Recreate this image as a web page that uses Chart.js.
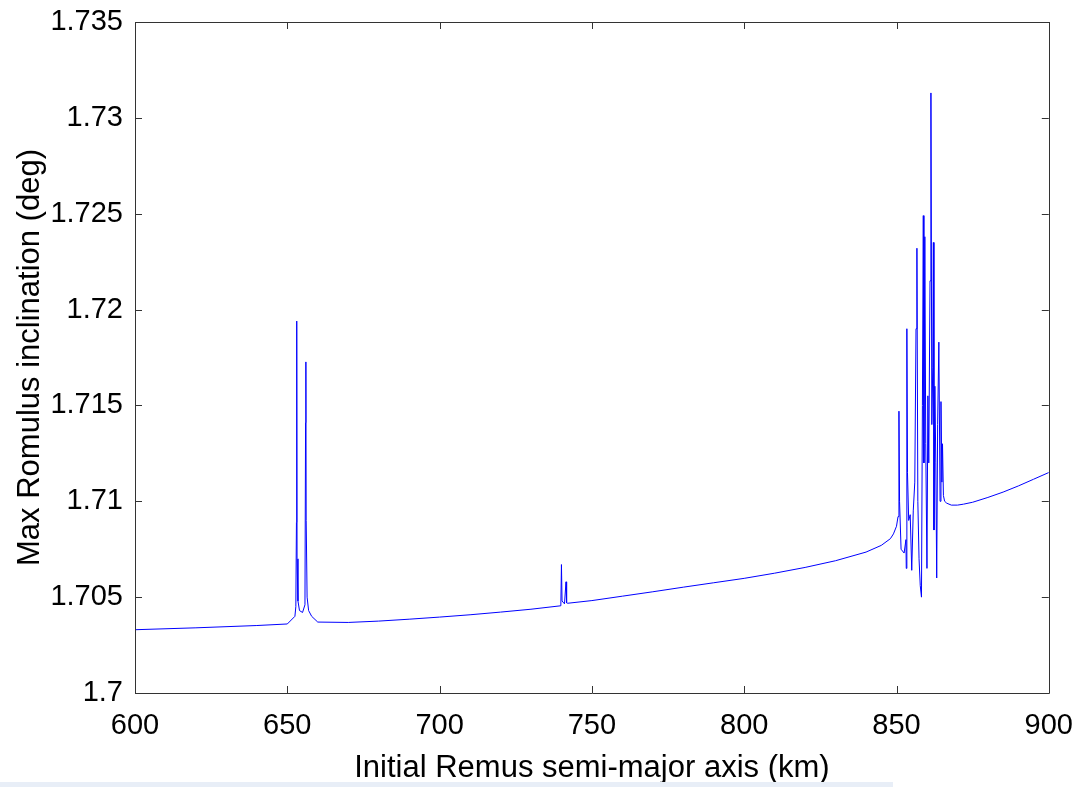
<!DOCTYPE html>
<html>
<head>
<meta charset="utf-8">
<script src="https://cdn.jsdelivr.net/npm/chart.js@4/dist/chart.umd.min.js"></script>
<style>
  html, body { margin: 0; padding: 0; background: #fff; }
  #wrap { position: relative; width: 1081px; height: 787px; }
  #strip { position: absolute; left: 0; top: 782px; width: 893px; height: 5px; background: #e8eef7; }
</style>
</head>
<body>
<div id="wrap">
  <canvas id="c" width="1081" height="787"></canvas>
  <div id="strip"></div>
</div>
<script>
// Semi-major axis (km)
const semiMajorAxisKm = [
  600, 620, 640, 650, 652.5, 652.8, 653.0, 653.1, 653.2, 653.5, 654, 655, 655.8, 656.0, 656.1, 656.2, 656.5, 657, 658, 660,
  670, 680, 690, 700, 710, 720, 730, 739.8, 740.0, 740.2, 741, 741.5, 741.7, 742, 750, 760, 770, 780, 790, 800, 810, 820, 830, 840, 845, 848,
  849, 850, 850.5, 850.8, 851.0, 851.5, 852.5, 853.1, 853.2, 853.4, 853.6, 854.0, 854.5, 855, 855.5, 856, 856.4, 856.7, 857.0,
  857.4, 857.8, 858.2, 858.5, 858.8, 859.0, 859.3, 859.6, 860.0, 860.3, 860.6, 861.0, 861.3, 861.6, 861.9, 862.1, 862.3,
  862.6, 862.9, 863.2, 863.5, 863.9, 864.3, 864.6, 864.9, 865.1, 865.4, 865.8, 866.5, 868, 870, 872, 875, 880, 885, 890, 895, 900
];
// Max Romulus inclination (deg)
const maxInclinationDeg = [
  1.70330, 1.70340, 1.70352, 1.70360, 1.70400, 1.70450, 1.70890, 1.71940, 1.70700, 1.70480, 1.70430, 1.70420, 1.70460, 1.71410, 1.71727, 1.70900, 1.70500, 1.70430, 1.70400, 1.70370,
  1.70368, 1.70375, 1.70385, 1.70396, 1.70408, 1.70422, 1.70437, 1.70455, 1.70670, 1.70480, 1.70465, 1.70580, 1.70470, 1.70468, 1.70482, 1.70505, 1.70528, 1.70552, 1.70575, 1.70598, 1.70625, 1.70655, 1.70690, 1.70735, 1.70770, 1.70805,
  1.70830, 1.70870, 1.70920, 1.71470, 1.71000, 1.70750, 1.70730, 1.70800, 1.70650, 1.71900, 1.71150, 1.70900, 1.70930, 1.70640, 1.70950, 1.71100, 1.71900, 1.72320, 1.71000,
  1.70700, 1.70560, 1.70500, 1.71500, 1.72490, 1.71200, 1.72380, 1.71300, 1.70650, 1.71550, 1.71200, 1.72150, 1.73130, 1.71400, 1.71700, 1.72350, 1.70850,
  1.71600, 1.71200, 1.70600, 1.71400, 1.71830, 1.71000, 1.71520, 1.71100, 1.71300, 1.71030, 1.71000, 1.70990, 1.70980, 1.70980, 1.70985, 1.70995, 1.71020, 1.71048, 1.71080, 1.71115, 1.71150
];
// Tick labels
const xTickValues = [600, 650, 700, 750, 800, 850, 900];
const yTickLabels = ['1.7', '1.705', '1.71', '1.715', '1.72', '1.725', '1.73', '1.735'];
const xAxisTitle = 'Initial Remus semi-major axis (km)';
const yAxisTitle = 'Max Romulus inclination (deg)';

const points = semiMajorAxisKm.map((x, i) => ({ x: x, y: maxInclinationDeg[i] }));

const boxPlugin = {
  id: 'matlabBox',
  afterDraw(chart) {
    const { ctx, chartArea: a, scales } = chart;
    ctx.save();
    ctx.strokeStyle = '#333333';
    ctx.lineWidth = 1;
    ctx.beginPath();
    ctx.rect(Math.round(a.left) + 0.5, Math.round(a.top) + 0.5, Math.round(a.right - a.left), Math.round(a.bottom - a.top));
    ctx.stroke();
    const L = 7;
    ctx.beginPath();
    scales.x.ticks.forEach(t => {
      const px = Math.round(scales.x.getPixelForValue(t.value)) + 0.5;
      ctx.moveTo(px, a.bottom); ctx.lineTo(px, a.bottom - L);
      ctx.moveTo(px, a.top); ctx.lineTo(px, a.top + L);
    });
    scales.y.ticks.forEach(t => {
      const py = Math.round(scales.y.getPixelForValue(t.value)) + 0.5;
      ctx.moveTo(a.left, py); ctx.lineTo(a.left + L, py);
      ctx.moveTo(a.right, py); ctx.lineTo(a.right - L, py);
    });
    ctx.stroke();
    ctx.restore();
  }
};

const FONT = 'Liberation Sans, Arial, sans-serif';

new Chart(document.getElementById('c'), {
  type: 'line',
  data: {
    datasets: [{
      data: points,
      borderColor: '#0000ff',
      borderWidth: 1,
      pointRadius: 0,
      tension: 0,
      fill: false
    }]
  },
  options: {
    responsive: false,
    animation: false,
    layout: { padding: { top: 22, right: 31, left: 0, bottom: 0 } },
    plugins: { legend: { display: false }, tooltip: { enabled: false } },
    scales: {
      x: {
        type: 'linear',
        min: 600, max: 900,
        afterBuildTicks(scale) { scale.ticks = xTickValues.map(v => ({ value: v })); },
        afterFit(scale) { scale.height = 94; },
        grid: { display: false },
        border: { display: false },
        ticks: {
          color: '#000',
          font: { family: FONT, size: 29 },
          padding: 8,
          maxRotation: 0,
          callback: v => String(v)
        },
        title: {
          display: true,
          text: xAxisTitle,
          color: '#000',
          font: { family: FONT, size: 31 },
          padding: { top: 2, bottom: 0 }
        }
      },
      y: {
        type: 'linear',
        min: 1.7, max: 1.735,
        afterBuildTicks(scale) { scale.ticks = yTickLabels.map(s => ({ value: parseFloat(s) })); },
        afterFit(scale) { scale.width = 135; },
        grid: { display: false },
        border: { display: false },
        ticks: {
          color: '#000',
          font: { family: FONT, size: 29 },
          padding: 4,
          callback: (v, i) => yTickLabels[i]
        },
        title: {
          display: true,
          text: yAxisTitle,
          color: '#000',
          font: { family: FONT, size: 31 },
          padding: { top: 12, bottom: 4 }
        }
      }
    }
  },
  plugins: [boxPlugin]
});
</script>
</body>
</html>
